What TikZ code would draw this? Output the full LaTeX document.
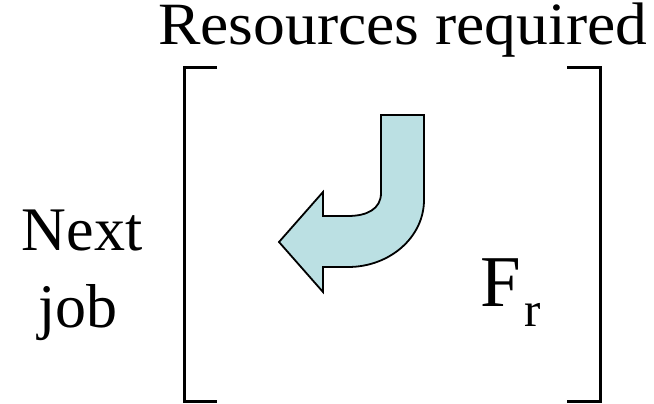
\documentclass[tikz,border=0pt]{standalone}
\usepackage{fontspec}
\setmainfont{Liberation Serif}
\definecolor{arrowfill}{RGB}{187,224,227}
\tikzset{
  bracket/.style={line width=3pt, line cap=butt, line join=miter},
  bigarrow/.style={draw=black, line width=1.8pt, fill=arrowfill, line join=miter},
  lbl/.style={inner sep=0pt, anchor=base west},
}
\begin{document}
\begin{tikzpicture}[x=1pt,y=-1pt]
\useasboundingbox (0,0) rectangle (654,404);
% title
\node[lbl] (title) at (158,45) {\scalebox{1.06}[1]{\fontsize{60}{66}\selectfont Resources required}};
% side label
\node[inner sep=0pt, anchor=base] (next) at (82,250) {\fontsize{62}{66}\selectfont Next};
\node[inner sep=0pt, anchor=base] (job) at (78,327) {\fontsize{62}{66}\selectfont job};
% brackets
\draw[bracket] (217,68) -- (184,68) -- (184,401.5) -- (217,401.5);
\draw[bracket] (567,68) -- (600,68) -- (600,401.5) -- (567,401.5);
% arrow
\draw[bigarrow] (381,115) -- (424,115) -- (424,200)
  .. controls (424,237) and (390,267) .. (348,267)
  -- (323,267) -- (323,292) -- (279,242) -- (323,192) -- (323,216) -- (348,216)
  .. controls (367,216) and (381,209) .. (381,193) -- cycle;
% F_r
\node[lbl] (F) at (480,306) {\fontsize{73}{78}\selectfont F};
\node[lbl] (r) at (524,326) {\fontsize{49}{54}\selectfont r};
\end{tikzpicture}
\end{document}
